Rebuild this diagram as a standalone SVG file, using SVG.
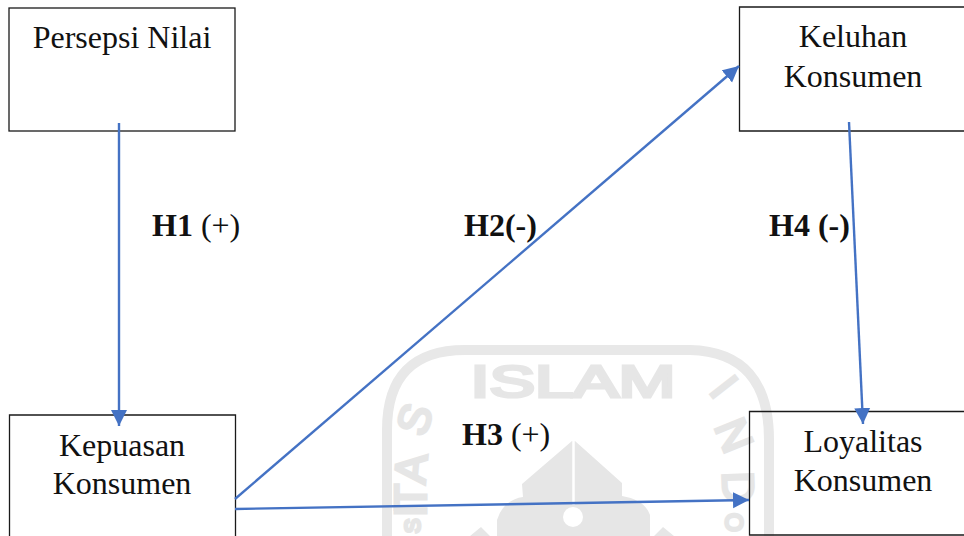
<svg xmlns="http://www.w3.org/2000/svg" width="964" height="536" viewBox="0 0 964 536">
<style>
.box{fill:none;stroke:#1a1a1a;stroke-width:1.3}
.t{font-family:"Liberation Serif","Times New Roman",serif;font-size:32px;fill:#111;text-anchor:middle}
.h{font-family:"Liberation Serif","Times New Roman",serif;font-size:32px;fill:#111}
.c{fill:none;stroke:#4472c4;stroke-width:2.4}
.wm{fill:none;stroke:#e8e8e8;stroke-width:10}
.wf{fill:#e6e6e6}
.wt{font-family:"Liberation Sans",Arial,sans-serif;fill:#e6e6e6;stroke:#e6e6e6;stroke-width:3;text-anchor:middle;font-size:44px}
</style>
<defs>
<marker id="a" markerUnits="userSpaceOnUse" markerWidth="17" markerHeight="17" refX="16" refY="8.500" orient="auto">
<path d="M0 0.500L16 8.500L0 16.500Z" fill="#4472c4"/>
</marker>
</defs>
<rect width="964" height="536" fill="#fff"/>
<g id="watermark">
<path class="wm" d="M387 536V430Q387 350 465 350H690Q769 352 769 440V536"/>
<text class="wt" x="573" y="397" textLength="205" lengthAdjust="spacingAndGlyphs">ISLAM</text>
<text class="wt" transform="translate(429 424) rotate(-72)">S</text>
<text class="wt" transform="translate(426 470) rotate(-85)">A</text>
<text class="wt" transform="translate(426 497) rotate(-90)">T</text>
<text class="wt" transform="translate(426 511) rotate(-90)">I</text>
<text class="wt" transform="translate(420 526) rotate(-90)" style="font-size:22px">S</text>
<text class="wt" transform="translate(712 396) rotate(52)">I</text>
<text class="wt" transform="translate(720 441) rotate(68)">N</text>
<text class="wt" transform="translate(723 488) rotate(88)">D</text>
<text class="wt" transform="translate(726 522) rotate(92)" style="font-size:24px">O</text>
<path class="wf" d="M572 441L522 484L523 497Q503 500 497 520V536H650V515Q645 500 622 496V483L575 441Z"/>
<path class="wf" d="M470 536L481 527L490 536ZM654 536L663 527L674 536Z"/>
<path d="M573.500 441V505" stroke="#fff" stroke-width="2.500" fill="none"/>
<circle cx="573" cy="517" r="10" fill="#fff"/>
</g>
<g id="node-persepsi"><rect class="box" x="9" y="8" width="226" height="123"/><text class="t" x="122" y="48">Persepsi Nilai</text></g>
<g id="node-keluhan"><path class="box" d="M964 7H739.500V131H964"/><text class="t" x="853" y="47">Keluhan</text><text class="t" x="853" y="87">Konsumen</text></g>
<g id="node-kepuasan"><path class="box" d="M9.500 536V415H235.500V536"/><text class="t" x="122" y="456">Kepuasan</text><text class="t" x="122" y="494">Konsumen</text></g>
<g id="node-loyalitas"><path class="box" d="M964 411.500H749.500V535H964"/><text class="t" x="863" y="452">Loyalitas</text><text class="t" x="863" y="491">Konsumen</text></g>
<g id="connectors">
<line class="c" x1="119" y1="123" x2="119" y2="426" marker-end="url(#a)"/>
<line class="c" x1="235" y1="499" x2="739" y2="66" marker-end="url(#a)"/>
<line class="c" x1="235" y1="509" x2="749" y2="500" marker-end="url(#a)"/>
<line class="c" x1="849" y1="122" x2="863" y2="424" marker-end="url(#a)"/>
</g>
<g id="labels">
<text class="h" x="152" y="236"><tspan font-weight="700">H1</tspan> (+)</text>
<text class="h" x="464" y="236" font-weight="700">H2(-)</text>
<text class="h" x="769" y="236" font-weight="700">H4 (-)</text>
<text class="h" x="462" y="445"><tspan font-weight="700">H3</tspan> (+)</text>
</g>
</svg>
